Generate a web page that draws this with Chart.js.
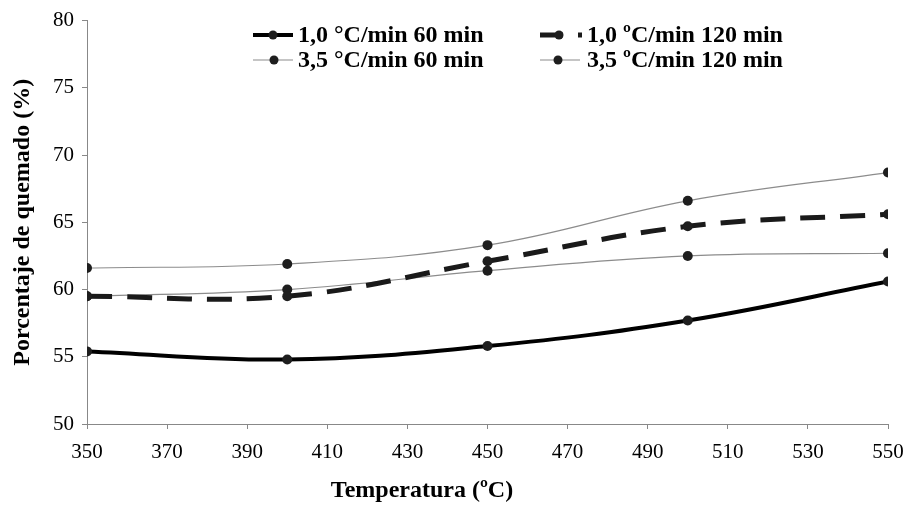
<!DOCTYPE html>
<html>
<head>
<meta charset="utf-8">
<script src="https://cdn.jsdelivr.net/npm/chart.js@4.4.0/dist/chart.umd.min.js"></script>
<style>
    html, body { margin: 0; padding: 0; background: #fff; }
    #wrap { width: 909px; height: 505px; }
</style>
</head>
<body>
<div id="wrap"><canvas id="chart" width="909" height="505"></canvas></div>
<script>
const temperaturas = [350, 400, 450, 500, 550];
const quemado10_60 = [55.4, 54.8, 55.8, 57.7, 60.6];
const quemado10_120 = [59.5, 59.5, 62.1, 64.7, 65.6];
const quemado35_60 = [59.5, 60.0, 61.4, 62.5, 62.7];
const quemado35_120 = [61.6, 61.9, 63.3, 66.6, 68.7];

const xTicks = [350, 370, 390, 410, 430, 450, 470, 490, 510, 530, 550];
const yTicks = [50, 55, 60, 65, 70, 75, 80];

const seriesLabels = [
    "1,0 °C/min 60 min",
    "1,0 ºC/min 120 min",
    "3,5 °C/min 60 min",
    "3,5 ºC/min 120 min",
];
const xTitle = "Temperatura (ºC)";
const yTitle = "Porcentaje de quemado (%)";

const SERIF = "'Liberation Serif', 'Times New Roman', serif";
const DOT = "#1e1e1e";
const THIN = "#8c8c8c";

function toPoints(values) {
    return temperaturas.map((t, i) => ({ x: t, y: values[i] }));
}

function serie(label, values, color, width, dash) {
    return {
        label,
        data: toPoints(values),
        borderColor: color,
        borderWidth: width,
        borderDash: dash,
        pointRadius: 5,
        pointBackgroundColor: DOT,
        pointBorderWidth: 0,
        tension: 0.4,
        fill: false,
    };
}

// leyenda en dos columnas, dibujada a mano (y el título del eje x, algo desplazado a la izquierda)
const legendItems = [
    { idx: 0, x0: 253, x1: 293, dot: 273, tx: 298, y: 35, off: 0 },
    { idx: 1, x0: 540, x1: 582, dot: 559, tx: 587, y: 35, off: 2 },
    { idx: 2, x0: 253, x1: 293, dot: 274, tx: 298, y: 60, off: 0 },
    { idx: 3, x0: 540, x1: 580, dot: 558, tx: 587, y: 60, off: 0 },
];

const legendPlugin = {
    id: "legendaManual",
    afterDraw(chart) {
        const ctx = chart.ctx;
        ctx.save();
        legendItems.forEach((it) => {
            const ds = chart.data.datasets[it.idx];
            ctx.strokeStyle = ds.borderColor;
            ctx.lineWidth = ds.borderWidth;
            ctx.setLineDash(ds.borderDash || []);
            ctx.lineDashOffset = it.off;
            ctx.beginPath();
            ctx.moveTo(it.x0, it.y);
            ctx.lineTo(it.x1, it.y);
            ctx.stroke();
            ctx.setLineDash([]);
            ctx.fillStyle = DOT;
            ctx.beginPath();
            ctx.arc(it.dot, it.y, 4.5, 0, Math.PI * 2);
            ctx.fill();
            ctx.fillStyle = "#000";
            ctx.font = `bold 24px ${SERIF}`;
            ctx.textBaseline = "middle";
            ctx.textAlign = "left";
            ctx.fillText(ds.label, it.tx, it.y + 1);
        });
        ctx.font = `bold 24px ${SERIF}`;
        ctx.textAlign = "center";
        ctx.textBaseline = "middle";
        ctx.fillText(xTitle, 422, 491);
        ctx.restore();
    },
};

new Chart(document.getElementById("chart"), {
    type: "line",
    data: {
        datasets: [
            serie(seriesLabels[0], quemado10_60, "#000", 4, []),
            serie(seriesLabels[1], quemado10_120, "#1a1a1a", 5, [25, 15]),
            serie(seriesLabels[2], quemado35_60, THIN, 1.2, []),
            serie(seriesLabels[3], quemado35_120, THIN, 1.2, []),
        ],
    },
    options: {
        responsive: false,
        animation: false,
        layout: { padding: { top: 20, right: 21, left: 0, bottom: 0 } },
        plugins: { legend: { display: false }, tooltip: { enabled: false } },
        scales: {
            x: {
                type: "linear",
                min: 350,
                max: 550,
                afterBuildTicks: (scale) => { scale.ticks = xTicks.map((v) => ({ value: v })); },
                afterFit: (scale) => { scale.height = 81; },
                ticks: { color: "#000", font: { family: SERIF, size: 21, lineHeight: 1.8 }, padding: 5, maxRotation: 0 },
                grid: { drawOnChartArea: false, drawTicks: true, tickLength: 5, color: "#888" },
                border: { display: true, color: "#888", width: 1 },
            },
            y: {
                min: 50,
                max: 80,
                afterBuildTicks: (scale) => { scale.ticks = yTicks.map((v) => ({ value: v })); },
                afterFit: (scale) => { scale.width = 87; },
                ticks: { color: "#000", font: { family: SERIF, size: 21 }, padding: 8 },
                grid: { drawOnChartArea: false, drawTicks: true, tickLength: 5, color: "#888" },
                border: { display: true, color: "#888", width: 1 },
                title: {
                    display: true,
                    text: yTitle,
                    color: "#000",
                    font: { family: SERIF, size: 24, weight: "bold" },
                    padding: { top: 8, bottom: 0 },
                },
            },
        },
    },
    plugins: [legendPlugin],
});
</script>
</body>
</html>
